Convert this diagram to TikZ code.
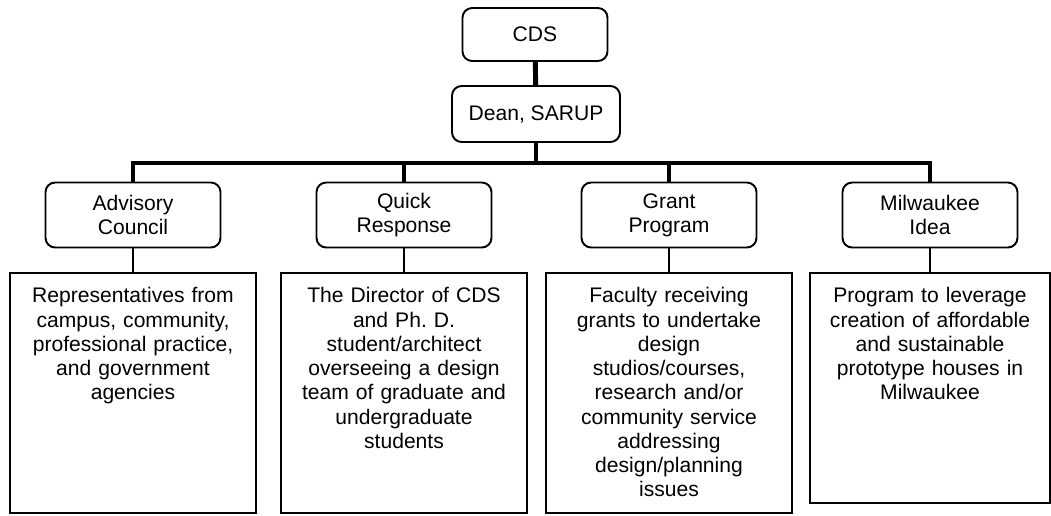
\documentclass[tikz,border=0pt]{standalone}
\usepackage{fontspec}
\setmainfont{Liberation Sans}
\newcommand{\orgfont}{\fontsize{12pt}{13.8pt}\selectfont\frenchspacing}

\begin{document}
\begin{tikzpicture}[
    unit/.style={draw, line width=1.1pt, rounded corners=5.5pt,
      minimum width=3.5cm, minimum height=1.3cm, align=center, font=\orgfont},
    note/.style={draw, line width=1.1pt, anchor=north, text width=4.34cm,
      align=center, inner sep=8pt, text height=9pt, text depth=3.92cm,
      font=\orgfont},
    trunk/.style={line width=2.8pt},
    twig/.style={line width=1pt}]
    \useasboundingbox (0, 0) rectangle (21.02, -10.30);
    % top of the chart
    \node[unit, minimum width=2.9cm, minimum height=1.06cm] (cds) at (10.70, -0.69) {CDS};
    \node[unit, minimum width=3.36cm, minimum height=1.12cm] (dean) at (10.72, -2.28) {Dean, SARUP};
    \coordinate (bus) at (10.72, -3.26);
    % the four programs
    \node[unit] (adv) at (2.66, -4.30) {Advisory\\Council};
    \node[unit] (quick) at (8.08, -4.30) {Quick\\Response};
    \node[unit] (grant) at (13.38, -4.30) {Grant\\Program};
    \node[unit] (mke) at (18.60, -4.30) {Milwaukee\\Idea};
    \node[note] (advnote) at (2.66, -5.44)
      {Representatives from\\campus, community,\\professional practice,\\and government\\agencies};
    \node[note] (quicknote) at (8.08, -5.44)
      {The Director of CDS\\and Ph. D.\\student/architect\\overseeing a design\\team of graduate and\\undergraduate\\students};
    \node[note] (grantnote) at (13.38, -5.44)
      {Faculty receiving\\grants to undertake\\design\\studios/courses,\\research and/or\\community service\\addressing\\design/planning\\issues};
    \node[note, text width=4.24cm, text depth=3.73cm] (mkenote) at (18.60, -5.44)
      {Program to leverage\\creation of affordable\\and sustainable\\prototype houses in\\Milwaukee};
    \draw[trunk] (cds) -- (dean);
    \draw[trunk] (dean) -- (bus);
    \draw[trunk] (adv.north) |- (bus) -| (mke.north);
    \draw[trunk] (quick.north) -- (quick.north |- bus);
    \draw[trunk] (grant.north) -- (grant.north |- bus);
    \draw[twig] (adv) -- (advnote);
    \draw[twig] (quick) -- (quicknote);
    \draw[twig] (grant) -- (grantnote);
    \draw[twig] (mke) -- (mkenote);
  \end{tikzpicture}
\end{document}
